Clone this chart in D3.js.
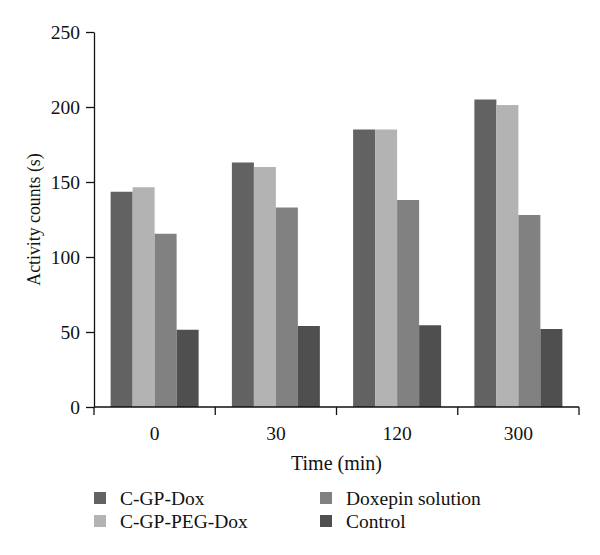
<!DOCTYPE html>
<html>
<head>
<meta charset="utf-8">
<script src="https://cdn.jsdelivr.net/npm/d3@7"></script>
<style>
  body { margin: 0; background: #fff; }
  svg { display: block; }
  text { font-family: "Liberation Serif", "DejaVu Serif", serif; fill: #111; }
</style>
</head>
<body>
<svg id="chart" width="600" height="555"></svg>
<script>
const categories = ["0", "30", "120", "300"];
const seriesNames = ["C-GP-Dox", "C-GP-PEG-Dox", "Doxepin solution", "Control"];
const cgpDox = [143.5, 163, 185, 205];
const cgpPegDox = [146.5, 160, 185, 201.3];
const doxepin = [115.5, 133, 138, 128];
const control = [51.5, 54, 54.5, 52];
const yTicks = [0, 50, 100, 150, 200, 250];
const colors = ["#626262", "#b3b3b3", "#818181", "#4f4f4f"];

const seriesValues = [cgpDox, cgpPegDox, doxepin, control];

const svg = d3.select("#chart");
const margin = { left: 94, right: 21, top: 32, bottom: 148 };
const W = 600, H = 555;

const x = d3.scaleBand().domain(categories).range([margin.left, W - margin.right]).padding(0);
const xs = d3.scaleBand().domain(seriesNames).range([0, x.bandwidth()]).paddingInner(0).paddingOuter(0.756);
const y = d3.scaleLinear().domain([0, 250]).range([H - margin.bottom, margin.top]);

// bars
const data = [];
categories.forEach((c, i) => {
  seriesNames.forEach((s, j) => {
    data.push({ c, s, v: seriesValues[j][i], color: colors[j] });
  });
});
svg.append("g").selectAll("rect").data(data).join("rect")
  .attr("x", d => x(d.c) + xs(d.s))
  .attr("width", xs.bandwidth())
  .attr("y", d => y(d.v))
  .attr("height", d => y(0) - y(d.v))
  .attr("fill", d => d.color);

// y axis
const yAxis = svg.append("g").attr("transform", `translate(${margin.left},0)`)
  .call(d3.axisLeft(y).tickValues(yTicks).tickSize(8).tickPadding(6).tickSizeOuter(0));
yAxis.selectAll("text").style("font-size", "19.5px").attr("dy", "0.35em");
yAxis.selectAll("line, path").attr("stroke", "#111").attr("stroke-width", 1.3);

// x axis with ticks at band edges
const xAxisG = svg.append("g").attr("transform", `translate(0,${y(0)})`);
xAxisG.append("line").attr("x1", margin.left).attr("x2", W - margin.right)
  .attr("stroke", "#111").attr("stroke-width", 1.3);
const edges = categories.map(c => x(c)).concat([x(categories[categories.length - 1]) + x.bandwidth()]);
xAxisG.selectAll("line.tk").data(edges).join("line").attr("class", "tk")
  .attr("x1", d => d).attr("x2", d => d).attr("y1", 0).attr("y2", 8)
  .attr("stroke", "#111").attr("stroke-width", 1.3);
xAxisG.selectAll("text").data(categories).join("text")
  .attr("x", d => x(d) + x.bandwidth() / 2)
  .attr("y", 33)
  .attr("text-anchor", "middle")
  .style("font-size", "19.5px")
  .text(d => d);

// axis titles
svg.append("text")
  .attr("x", (margin.left + W - margin.right) / 2)
  .attr("y", 470)
  .attr("text-anchor", "middle")
  .style("font-size", "20px")
  .text("Time (min)");
svg.append("text")
  .attr("transform", `translate(40,${(y(0) + y(250)) / 2}) rotate(-90)`)
  .attr("text-anchor", "middle")
  .style("font-size", "17.8px")
  .text("Activity counts (s)");

// legend
const legendPos = [[94, 492], [94, 515], [320, 492], [320, 515]];
const lg = svg.append("g").selectAll("g").data(seriesNames).join("g")
  .attr("transform", (d, i) => `translate(${legendPos[i][0]},${legendPos[i][1]})`);
lg.append("rect").attr("width", 12).attr("height", 12).attr("fill", (d, i) => colors[i]);
lg.append("text").attr("x", 26).attr("y", 6).attr("dy", "0.35em")
  .style("font-size", "19.5px").text(d => d);
</script>
</body>
</html>
